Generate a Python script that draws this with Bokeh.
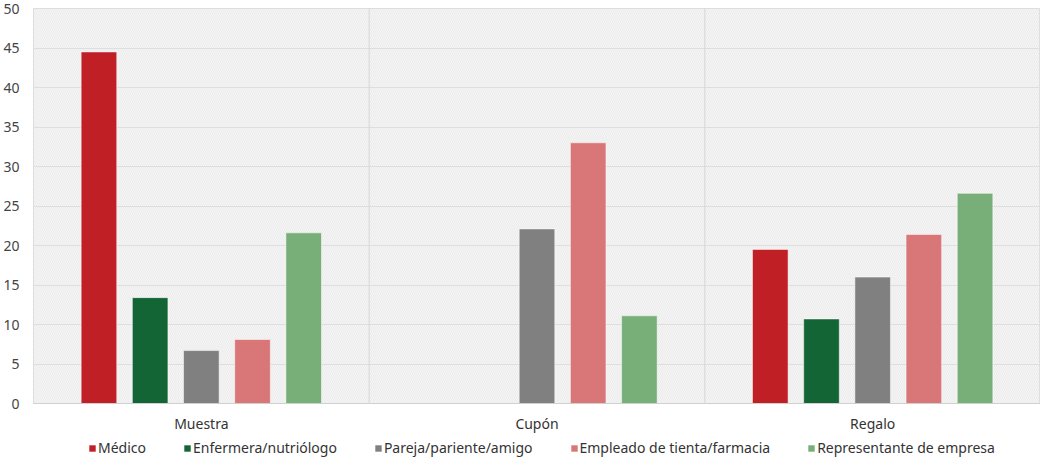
from bokeh.plotting import figure
from bokeh.layouts import column
from bokeh.models import FactorRange, Span, Legend, LegendItem, BoxAnnotation, FixedTicker, ColumnDataSource
from bokeh.transform import dodge
from bokeh.embed import file_html
from bokeh.resources import INLINE

categories = ["Muestra", "Cupón", "Regalo"]
series_names = ["Médico", "Enfermera/nutriólogo", "Pareja/pariente/amigo",
                "Empleado de tienta/farmacia", "Representante de empresa"]
medico = [44.5, 0.0, 19.5]
enfermera = [13.4, 0.0, 10.7]
pareja = [6.7, 22.1, 16.0]
empleado = [8.1, 33.0, 21.4]
representante = [21.6, 11.1, 26.6]
y_ticks = [0, 5, 10, 15, 20, 25, 30, 35, 40, 45, 50]

colors = ["#C01F26", "#136535", "#808080", "#D97677", "#78AE78"]
offsets = [-0.305, -0.1525, 0.0, 0.1525, 0.305]
FONT = "Noto Sans"

src = ColumnDataSource(dict(cat=categories, s0=medico, s1=enfermera, s2=pareja,
                            s3=empleado, s4=representante))

p = figure(x_range=FactorRange(*categories, range_padding=0), y_range=(0, 50),
           width=1040, height=435, output_backend="svg", toolbar_location=None,
           min_border_top=8, min_border_right=0, min_border_left=10, min_border_bottom=0)

p.background_fill_color = "#F4F4F4"
p.border_fill_color = "white"
p.outline_line_color = "#DDDDDD"
p.add_layout(BoxAnnotation(left=0, right=3, bottom=0, top=50, fill_alpha=0,
                           line_alpha=0, hatch_pattern="\\", hatch_color="#E4E4E4",
                           hatch_alpha=0.6, hatch_scale=4, hatch_weight=0.8, level="underlay"))

p.xgrid.grid_line_color = None
p.ygrid.grid_line_color = "#DCDCDC"
p.ygrid.grid_line_width = 1.2
p.yaxis.ticker = FixedTicker(ticks=y_ticks)

for loc in [1, 2]:
    p.add_layout(Span(location=loc, dimension="height", line_color="#D6D6D6", line_width=1))

for i in range(5):
    p.vbar(x=dodge("cat", offsets[i], range=p.x_range), top="s%d" % i, width=0.106,
           source=src, fill_color=colors[i], line_color="white", line_alpha=0.5,
           line_width=1)

p.yaxis.axis_line_color = None
p.yaxis.major_tick_line_color = None
p.yaxis.minor_tick_line_color = None
p.yaxis.major_label_text_font = FONT
p.yaxis.major_label_text_font_size = "14px"
p.yaxis.major_label_text_color = "#444444"
p.yaxis.major_label_standoff = 8

p.xaxis.axis_line_color = "#D0D0D0"
p.xaxis.major_tick_line_color = None
p.xaxis.minor_tick_line_color = None
p.xaxis.major_label_text_font = FONT
p.xaxis.major_label_text_font_size = "14px"
p.xaxis.major_label_text_color = "#333333"
p.xaxis.major_label_standoff = 4

# legend strip below the chart (same data, drawn outside the strip's visible range)
lg = figure(width=1040, height=22, output_backend="svg", toolbar_location=None,
            x_range=FactorRange(*categories), y_range=(100, 101), min_border=0)
lg.axis.visible = False
lg.grid.visible = False
lg.outline_line_color = None
items = []
for i in range(5):
    r = lg.vbar(x="cat", top="s%d" % i, width=0.1, source=src,
                fill_color=colors[i], line_color=None)
    items.append(LegendItem(label=series_names[i], renderers=[r]))
legend = Legend(items=items, orientation="horizontal", location=(55, 0),
                glyph_width=8, glyph_height=8, label_text_font=FONT,
                label_text_font_size="14px", label_text_color="#333333",
                spacing=37, label_standoff=2, padding=0, margin=0,
                border_line_color=None, background_fill_alpha=0)
lg.add_layout(legend)

layout = column(p, lg, spacing=0)
open("out.html", "w").write(file_html(layout, INLINE))
